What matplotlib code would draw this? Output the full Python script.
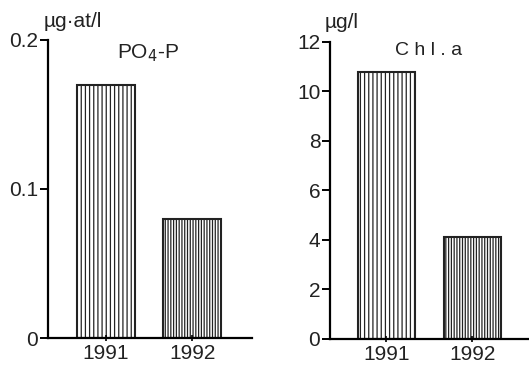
import matplotlib
matplotlib.use("Agg")
import matplotlib.pyplot as plt

years = ["1991", "1992"]
po4 = [0.17, 0.08]
chla = [10.8, 4.1]
po4_ticks = [0, 0.1, 0.2]
po4_ticklabels = ["0", "0.1", "0.2"]
chla_ticks = [0, 2, 4, 6, 8, 10, 12]

plt.rcParams['font.family'] = ['Liberation Sans', 'DejaVu Sans']
plt.rcParams['hatch.linewidth'] = 0.9
plt.rcParams['hatch.color'] = '#444444'

fig = plt.figure(figsize=(5.29, 3.68), dpi=100)

def style(ax):
    for s in ['top', 'right']:
        ax.spines[s].set_visible(False)
    ax.spines['left'].set_linewidth(1.6)
    ax.spines['bottom'].set_linewidth(1.6)
    ax.tick_params(axis='y', direction='out', length=6, width=1.4, labelsize=15, pad=1,
                   labelcolor='#222222')
    ax.tick_params(axis='x', direction='inout', length=5, width=1.2, labelsize=15, pad=2,
                   labelcolor='#222222')

# left panel
ax1 = fig.add_axes([0.0907, 0.0815, 0.385, 0.81])
x = [1, 2]
ax1.bar(x, po4, width=0.67, color='white', edgecolor='#222222', linewidth=1.5,
        hatch=['||||', '||||||'])
ax1.set_xlim(0.33, 2.69)
ax1.set_ylim(0, 0.2)
ax1.set_yticks(po4_ticks)
ax1.set_yticklabels(po4_ticklabels)
ax1.set_xticks(x)
ax1.set_xticklabels(years)
style(ax1)
fig.text(44/529, 1 - 27/368, "µg·at/l", fontsize=15, ha='left', va='baseline', color='#222222')
fig.text(117/529, 1 - 58/368, "PO$_4$-P", fontsize=15, ha='left', va='baseline', color='#222222')

# right panel
ax2 = fig.add_axes([0.624, 0.079, 0.376, 0.807])
ax2.bar(x, chla, width=0.66, color='white', edgecolor='#222222', linewidth=1.5,
        hatch=['||||', '||||||'])
ax2.set_xlim(0.343, 2.66)
ax2.set_ylim(0, 12)
ax2.set_yticks(chla_ticks)
ax2.set_xticks(x)
ax2.set_xticklabels(years)
style(ax2)
fig.text(325/529, 1 - 28/368, "µg/l", fontsize=15, ha='left', va='baseline', color='#222222')
fig.text(395/529, 1 - 55/368, "C h l . a", fontsize=14, ha='left', va='baseline', color='#222222')

fig.savefig("out.png", dpi=100)
